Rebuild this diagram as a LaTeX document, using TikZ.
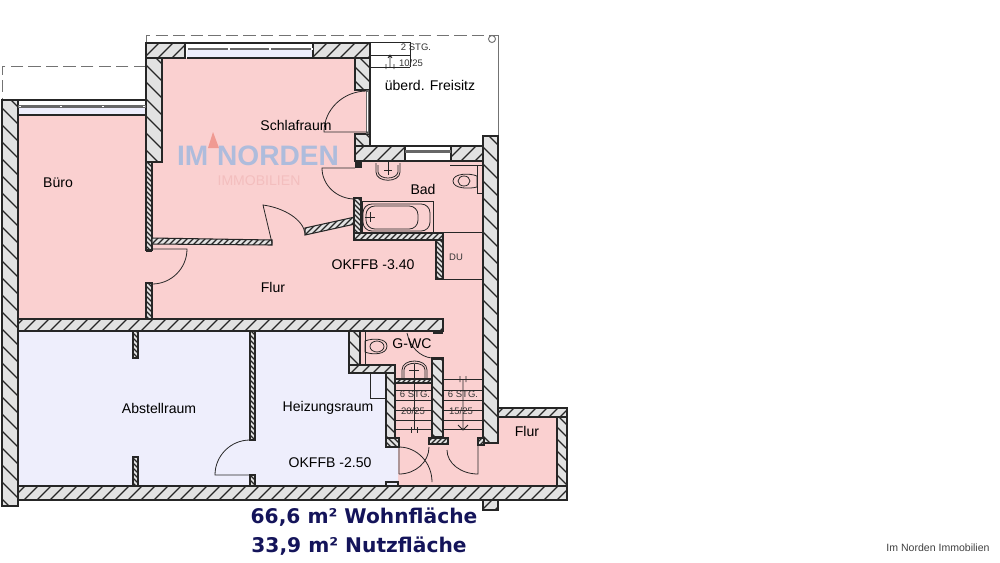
\documentclass[tikz,border=0pt]{standalone}
\usepackage{fontspec}
\setmainfont{Liberation Sans}
\newfontfamily\capfont{DejaVu Sans}
\definecolor{roompink}{HTML}{FAD0D0}
\definecolor{roomblue}{HTML}{EEEEFC}
\definecolor{wallgray}{HTML}{E2E2E2}
\definecolor{inkdark}{HTML}{262626}
\definecolor{capnavy}{HTML}{14145A}
\definecolor{markblue}{HTML}{AEBCDC}
\definecolor{markred}{HTML}{F09A92}
\definecolor{markpale}{HTML}{F3BEBE}
% #1 outline, #2 hatch distance, #3 direction (1 = down right, -1 = down left)
\newcommand*{\hwall}[3]{
  \begin{scope}
    \clip #1;
    \fill[wallgray] (0,0) rectangle (1000,562);
    \pgfmathtruncatemacro{\nlines}{2400/#2}
    \foreach \n in {0,...,\nlines}
      \draw[hatchline] (\n*#2-700,-50) -- ++(#3*650,650);
  \end{scope}
  \draw[wallline] #1;
}
\begin{document}
\begin{tikzpicture}[x=0.02cm,y=-0.02cm,
      hatchline/.style={draw=inkdark,line width=0.7pt},
      wallline/.style={draw=inkdark,line width=0.6pt},
      thinline/.style={draw=inkdark,line width=0.45pt},
      grayline/.style={draw=black!55,line width=0.55pt},
      roomlabel/.style={font=\fontsize{8}{10}\selectfont,text=black,inner sep=0pt},
      smalllabel/.style={font=\fontsize{5.4}{6}\selectfont,text=black!80,inner sep=0pt},
      caplabel/.style={font=\capfont\bfseries\fontsize{11.5}{13}\selectfont,text=capnavy,inner sep=0pt}
      ]
      \useasboundingbox (0,0) rectangle (1000,562);
      \fill[white] (0,0) rectangle (1000,562);
      % floors
      \fill[roompink] (162,58) -- (355,58) -- (355,90) -- (370,90) -- (370,134) -- (355,134) -- (355,161) -- (483,161)
        -- (483,408) -- (557,408) -- (557,486) -- (398,486) -- (398,445) -- (386,445) -- (386,373) -- (349,373)
        -- (349,319) -- (146,319) -- (146,162) -- (162,162) -- cycle;
      \fill[roompink] (18,115) rectangle (150,319);
      \fill[roomblue] (18,331) -- (349,331) -- (349,373) -- (386,373) -- (386,445) -- (398,445) -- (398,486) -- (18,486) -- cycle;
      \fill[roomblue] (18,108) rectangle (146,115);
      \fill[roomblue] (187,50) rectangle (313,58);
      % terrace outlines
      \draw[grayline,dash pattern=on 7pt off 3pt] (146,43) -- (146,35) -- (498,35);
      \draw[grayline,dash pattern=on 7pt off 3pt] (146,66) -- (2,66) -- (2,100);
      \draw[grayline] (498,35) -- (498,136);
      \draw[grayline] (492,39) circle (3.5);
      % watermark
      \fill[markred] (213,132) -- (219,148) -- (208,148) -- cycle;
      \node[inner sep=0pt,text=markblue,font=\bfseries\fontsize{16}{18}\selectfont] (markname) at (258,156) {IM\hspace{5pt}NORDEN};
      \node[inner sep=0pt,text=markpale,font=\fontsize{8}{9}\selectfont] (marksub) at (259,181) {IMMOBILIEN};
      % thick walls
      \hwall{(2,100) -- (18,100) -- (18,506) -- (2,506) -- cycle}{17}{1}
      \hwall{(146,43) -- (162,43) -- (162,162) -- (146,162) -- cycle}{17}{1}
      \hwall{(146,43) -- (185,43) -- (185,58) -- (162,58) -- (146,58) -- cycle}{14}{-1}
      \hwall{(313,43) -- (370,43) -- (370,58) -- (313,58) -- cycle}{14}{-1}
      \hwall{(355,58) -- (370,58) -- (370,90) -- (355,90) -- cycle}{14}{1}
      \hwall{(355,134) -- (370,134) -- (370,146) -- (355,146) -- cycle}{14}{1}
      \hwall{(355,146) -- (405,146) -- (405,161) -- (355,161) -- cycle}{14}{-1}
      \hwall{(451,146) -- (483,146) -- (483,161) -- (451,161) -- cycle}{14}{-1}
      \hwall{(483,136) -- (498,136) -- (498,443) -- (483,443) -- cycle}{17}{1}
      \hwall{(18,319) -- (443,319) -- (443,331) -- (18,331) -- cycle}{13}{-1}
      \hwall{(349,331) -- (360,331) -- (360,373) -- (349,373) -- cycle}{14}{1}
      \hwall{(349,365) -- (395,365) -- (395,373) -- (349,373) -- cycle}{11}{-1}
      \hwall{(386,373) -- (395,373) -- (395,438) -- (386,438) -- cycle}{12}{1}
      \hwall{(432,358) -- (443,358) -- (443,437) -- (432,437) -- cycle}{12}{1}
      \hwall{(18,486) -- (567,486) -- (567,500) -- (18,500) -- cycle}{13}{-1}
      \hwall{(483,500) -- (498,500) -- (498,510) -- (483,510) -- cycle}{13}{-1}
      \hwall{(498,408) -- (567,408) -- (567,417) -- (498,417) -- cycle}{11}{-1}
      \hwall{(557,417) -- (567,417) -- (567,486) -- (557,486) -- cycle}{12}{1}
      % thin walls
      \hwall{(146,162) -- (152,162) -- (152,250) -- (146,250) -- cycle}{5}{1}
      \hwall{(146,283) -- (152,283) -- (152,319) -- (146,319) -- cycle}{5}{1}
      \hwall{(152,238) -- (272,240) -- (272,245) -- (152,244) -- cycle}{6}{-1}
      \hwall{(305,228) -- (355,217) -- (355,224) -- (305,235) -- cycle}{6}{-1}
      \hwall{(354,198) -- (361,198) -- (361,240) -- (354,240) -- cycle}{5}{1}
      \hwall{(354,233) -- (443,233) -- (443,240) -- (354,240) -- cycle}{6}{-1}
      \hwall{(436,240) -- (443,240) -- (443,279) -- (436,279) -- cycle}{5}{1}
      \hwall{(133,331) -- (138,331) -- (138,358) -- (133,358) -- cycle}{5}{1}
      \hwall{(133,457) -- (138,457) -- (138,486) -- (133,486) -- cycle}{5}{1}
      \hwall{(250,331) -- (255,331) -- (255,440) -- (250,440) -- cycle}{5}{1}
      \hwall{(250,475) -- (255,475) -- (255,486) -- (250,486) -- cycle}{5}{1}
      \hwall{(395,379) -- (432,379) -- (432,383) -- (395,383) -- cycle}{5}{-1}
      \hwall{(429,438) -- (448,438) -- (448,444) -- (429,444) -- cycle}{5}{-1}
      \hwall{(386,438) -- (399,438) -- (399,447) -- (386,447) -- cycle}{6}{1}
      \hwall{(478,438) -- (484,438) -- (484,445) -- (478,445) -- cycle}{5}{-1}
      % black wall ends
      \fill[inkdark] (146,250) rectangle (152,252);
      \fill[inkdark] (146,282) rectangle (152,284);
      \fill[inkdark] (355,161) rectangle (362,168);
      \fill[inkdark] (433,330) rectangle (443,334);
      \fill[inkdark] (432,357) rectangle (443,360);
      \draw[inkdark,line width=1pt] (386,438) -- (386,447) -- (399,447) -- (399,438) -- (395,438);
      \draw[inkdark,line width=1pt] (478,444.5) -- (478,438) -- (484,438);
      \draw[inkdark,line width=1pt] (386,487) -- (386,482) -- (398,482) -- (398,487);
      % windows
      \draw[wallline] (18,100) -- (146,100);
      \fill[inkdark!70] (18,105) rectangle (146,108);
      \draw[wallline] (18,115) -- (146,115);
      \foreach \wx in {20,61,103,144}
        \fill[white] (\wx-1,105.7) rectangle (\wx+1,107.3);
      \draw[wallline] (185,43) -- (313,43);
      \fill[inkdark!70] (187,47.5) rectangle (313,50);
      \draw[wallline] (187,58) -- (313,58);
      \foreach \wx in {187,229,270,312}
        \fill[white] (\wx-1,48) rectangle (\wx+1,49.5);
      \fill[inkdark!70] (365.5,90) rectangle (368.5,134);
      \fill[white] (366.5,92) rectangle (367.5,132);
      \draw[wallline] (370,90) -- (370,134);
      \draw[wallline] (405,146) -- (451,146);
      \fill[inkdark!70] (405,150) rectangle (451,152.5);
      \draw[wallline] (405,161) -- (451,161);
      % bath fittings
      \draw[thinline] (362,201) rectangle (433,232);
      \draw[thinline,rounded corners=5pt] (363,204) rectangle (430,231);
      \draw[thinline,rounded corners=5pt] (366,206) rectangle (418,229);
      \draw[thinline] (365,217) -- (375,217) (370,212) -- (370,222);
      \draw[thinline] (433,232) -- (483,232);
      \draw[thinline] (450,165) -- (483,165) (477,165) -- (477,193) -- (483,193);
      \draw[thinline] (376,163) -- (376,172) .. controls (376,183) and (400,183) .. (400,172) -- (400,163);
      \draw[thinline] (378,165) -- (378,172) .. controls (379,180) and (397,180) .. (398,172) -- (398,165);
      \draw[thinline] (388,161) -- (388,175) (384,170) -- (392,170);
      \draw[thinline] (453,181) .. controls (453,173) and (470,173) .. (477,176) -- (477,187) .. controls (470,189) and (453,189) .. (453,181) -- cycle;
      \draw[thinline] (464,181) ellipse (6 and 5);
      \draw[thinline] (443,279) -- (483,279);
      % wc fittings
      \draw[thinline] (365,331) -- (365,365);
      \draw[thinline] (387,346) .. controls (387,338) and (372,338) .. (365,341) -- (365,352) .. controls (372,355) and (387,355) .. (387,346) -- cycle;
      \draw[thinline] (377,346.5) ellipse (7 and 5.5);
      \draw[thinline] (402,379) -- (402,370) .. controls (402,358) and (427,358) .. (427,370) -- (427,379);
      \draw[thinline] (404,378) -- (404,370) .. controls (404,361) and (425,361) .. (425,370) -- (425,378);
      \draw[thinline] (409,370) -- (419,370);
      % stairs
      \foreach \sy in {390,400,410,420,429} {
        \draw[thinline] (395,\sy) -- (432,\sy);
        \draw[thinline] (443,\sy) -- (483,\sy);
      }
      \draw[thinline] (443,379) -- (483,379);
      \draw[thinline] (414,364) -- (414,430) (411,427) -- (411,433) (417,427) -- (417,433);
      \draw[thinline] (463,379) -- (463,430) (458,425) -- (463,430) -- (468,425) (460,376) -- (460,382) (466,376) -- (466,382);
      \draw[thinline] (370,373) -- (370,398) -- (386,398);
      % doors
      \draw[thinline] (367,91) arc (270:180:43 and 41) -- (368,132);
      \draw[thinline] (355,168) -- (322,168) arc (180:90:33 and 31);
      \draw[thinline] (272,243) -- (263,205) .. controls (285,208) and (303,220) .. (305,233);
      \draw[thinline] (152,249) -- (187,249) arc (0:90:35);
      \draw[thinline] (250,440) arc (270:180:35) -- (250,475);
      \draw[thinline] (407,333) .. controls (410,347) and (420,357) .. (432,358);
      \draw[thinline] (399,474) -- (399,447) arc (270:360:33 and 35);
      \draw[thinline] (399,474) arc (90:0:30 and 27);
      \draw[thinline] (478,444) -- (478,474) arc (90:180:31 and 24);
      % terrace steps
      \draw[thinline] (370,42) -- (410,42) (370,55) -- (410,55) (370,67) -- (410,67) (410,42) -- (410,67);
      \draw[thinline] (390,55) -- (390,67) (388,58) -- (390,55) -- (392,58) (386,64) -- (386,69) (394,64) -- (394,69);
      % labels
      \node[roomlabel] (lblSchlaf) at (296,125) {Schlafraum};
      \node[roomlabel] (lblFreisitz) at (430,85) {überd. Freisitz};
      \node[roomlabel] (lblBuero) at (58,183) {Büro};
      \node[roomlabel] (lblBad) at (423,189) {Bad};
      \node[roomlabel] (lblOben) at (373,265) {OKFFB -3.40};
      \node[roomlabel] (lblFlur) at (273,287) {Flur};
      \node[roomlabel] (lblWC) at (412,344) {G-WC};
      \node[roomlabel] (lblAbstell) at (159,408) {Abstellraum};
      \node[roomlabel] (lblHeiz) at (328,408) {Heizungsraum};
      \node[roomlabel] (lblUnten) at (330,463) {OKFFB -2.50};
      \node[roomlabel] (lblFlurB) at (527,431) {Flur};
      \node[smalllabel] (lblDU) at (456,257) {DU};
      \node[smalllabel] (lblStgA) at (415,394) {6 STG.};
      \node[smalllabel] (lblMassA) at (413,411) {20/25};
      \node[smalllabel] (lblStgB) at (463,394) {6 STG.};
      \node[smalllabel] (lblMassB) at (461,411) {15/25};
      \node[smalllabel] (lblStgC) at (416,47) {2 STG.};
      \node[smalllabel] (lblMassC) at (411,63) {10/25};
      \node[caplabel] (capWohn) at (364,517) {66,6 m² Wohnfläche};
      \node[caplabel] (capNutz) at (359,546) {33,9 m² Nutzfläche};
      \node[inner sep=0pt,text=black!75,font=\fontsize{6}{7}\selectfont] (lblFirma) at (938,548) {Im Norden Immobilien};
    \end{tikzpicture}
\end{document}
